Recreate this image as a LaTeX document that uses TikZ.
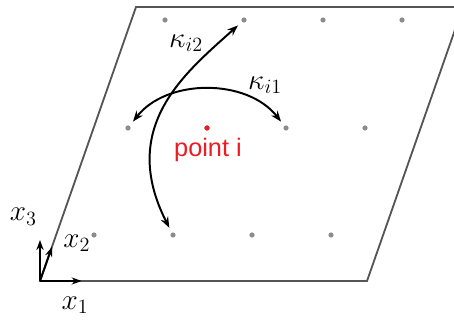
\documentclass[tikz,border=0pt]{standalone}
\usepackage{amsmath}
\usepackage{amssymb}
\usepackage{fontspec}
\usepackage{tikz}
\usepackage{xcolor}
\usetikzlibrary{arrows.meta}
\newfontfamily\labelfont{Liberation Sans}
\definecolor{pointred}{RGB}{237,28,36}
\definecolor{planegray}{RGB}{85,85,85}
\definecolor{dotgray}{RGB}{140,140,140}
\tikzset{
  dot/.style={circle,fill=dotgray,inner sep=0pt,minimum size=0.13cm},
  reddot/.style={circle,fill=pointred,inner sep=0pt,minimum size=0.13cm},
  kappa/.style={{Stealth[length=0.27cm,width=0.2cm]}-{Stealth[length=0.27cm,width=0.2cm]},
    line width=1.4pt,shorten <=0.13cm,shorten >=0.13cm},
  axis/.style={-{Stealth[length=0.25cm,width=0.18cm]},line width=1.4pt},
  biglabel/.style={font=\fontsize{22}{26}\selectfont}
}

\begin{document}
\begin{tikzpicture}
\clip (0,0) rectangle (11.35,8);
\useasboundingbox (0,0) rectangle (11.35,8);
% the plane
\coordinate (o) at (1.0,0.975);
\draw[planegray,line width=1.3pt] (o) -- (9.175,0.975) -- (11.575,7.825) -- (3.4,7.825) -- cycle;
% lattice points
\foreach \r/\y/\x in {0/2.125/2.35, 1/4.8/3.2, 2/7.5/4.125}
  \foreach \c in {0,...,3}
    \node[dot] (p\r\c) at (\x+1.975*\c,\y) {};
\node[reddot] (pi) at (p11) {};
\node[text=pointred,font=\labelfont\fontsize{18}{22}\selectfont] (lpi) at (5.2,4.25) {point i};
% directions
\draw[kappa] (p10) to[bend left=52] (p12);
\draw[kappa] (p01) to[out=117,in=222,out looseness=1.37,in looseness=0.87] (p21);
\node[biglabel] (k2) at (4.65,6.925) {$\kappa_{i2}$};
\node[biglabel] (k1) at (6.625,5.875) {$\kappa_{i1}$};
% axes
\coordinate (e1) at (2.04,0.975);
\coordinate (e2) at (1.3,1.83);
\coordinate (e3) at (1.0,2.0);
\draw[axis] (o) -- (e1);
\draw[axis] (o) -- (e2);
\draw[axis] (o) -- (e3);
\node[biglabel] (lx1) at (1.875,0.375) {$x_1$};
\node[biglabel] (lx2) at (1.92,1.92) {$x_2$};
\node[biglabel] (lx3) at (0.58,2.58) {$x_3$};
\end{tikzpicture}
\end{document}
